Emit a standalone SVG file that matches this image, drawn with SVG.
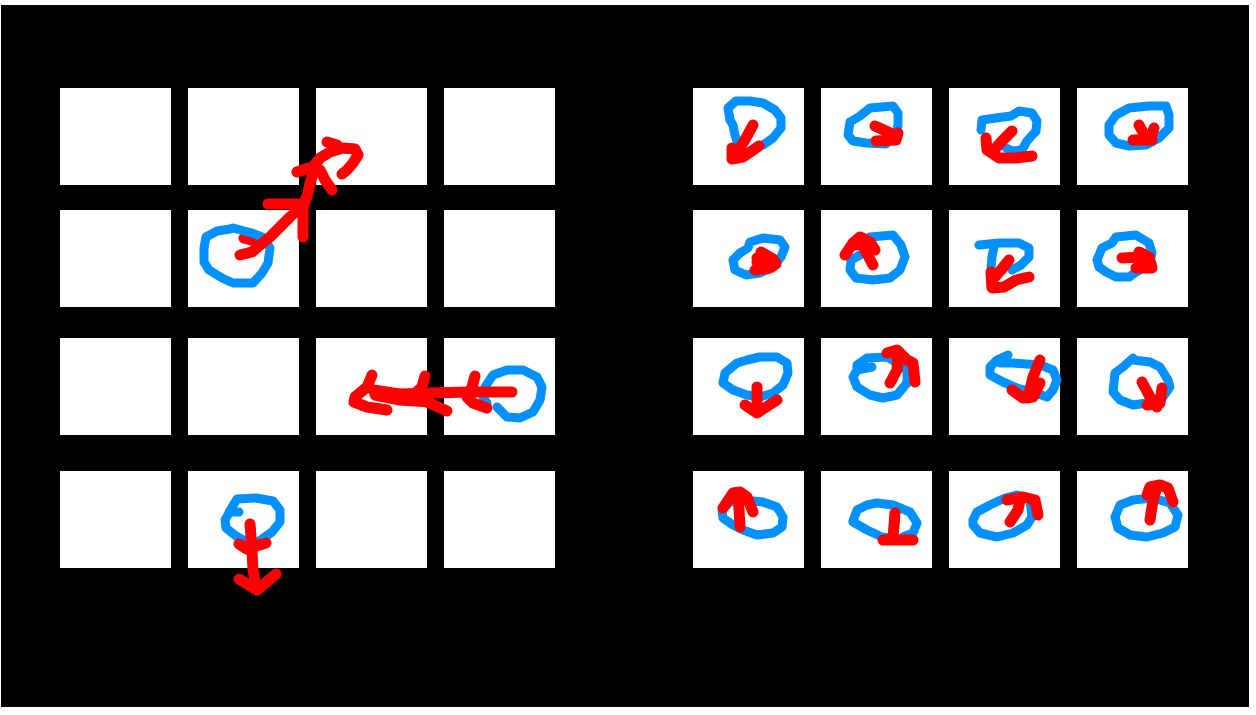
<svg xmlns="http://www.w3.org/2000/svg" width="1256" height="715" viewBox="0 0 1256 715">
<style>
.cell{fill:#ffffff}
.b{fill:none;stroke:#0091ff;stroke-width:9;stroke-linecap:round;stroke-linejoin:round}
.r{fill:none;stroke:#ff0000;stroke-width:11;stroke-linecap:round;stroke-linejoin:round}
</style>
<rect x="0" y="0" width="1256" height="715" fill="#ffffff"/>
<rect x="1" y="5" width="1248" height="702" fill="#000000"/>
<g id="left-grid">
<rect class="cell" x="60" y="88" width="111" height="97"/>
<rect class="cell" x="188" y="88" width="111" height="97"/>
<rect class="cell" x="316" y="88" width="111" height="97"/>
<rect class="cell" x="444" y="88" width="111" height="97"/>
<rect class="cell" x="60" y="210" width="111" height="97"/>
<rect class="cell" x="188" y="210" width="111" height="97"/>
<rect class="cell" x="316" y="210" width="111" height="97"/>
<rect class="cell" x="444" y="210" width="111" height="97"/>
<rect class="cell" x="60" y="338" width="111" height="97"/>
<rect class="cell" x="188" y="338" width="111" height="97"/>
<rect class="cell" x="316" y="338" width="111" height="97"/>
<rect class="cell" x="444" y="338" width="111" height="97"/>
<rect class="cell" x="60" y="471" width="111" height="97"/>
<rect class="cell" x="188" y="471" width="111" height="97"/>
<rect class="cell" x="316" y="471" width="111" height="97"/>
<rect class="cell" x="444" y="471" width="111" height="97"/>
</g>
<g id="right-grid">
<rect class="cell" x="693" y="88" width="111" height="97"/>
<rect class="cell" x="821" y="88" width="111" height="97"/>
<rect class="cell" x="949" y="88" width="111" height="97"/>
<rect class="cell" x="1077" y="88" width="111" height="97"/>
<rect class="cell" x="693" y="210" width="111" height="97"/>
<rect class="cell" x="821" y="210" width="111" height="97"/>
<rect class="cell" x="949" y="210" width="111" height="97"/>
<rect class="cell" x="1077" y="210" width="111" height="97"/>
<rect class="cell" x="693" y="338" width="111" height="97"/>
<rect class="cell" x="821" y="338" width="111" height="97"/>
<rect class="cell" x="949" y="338" width="111" height="97"/>
<rect class="cell" x="1077" y="338" width="111" height="97"/>
<rect class="cell" x="693" y="471" width="111" height="97"/>
<rect class="cell" x="821" y="471" width="111" height="97"/>
<rect class="cell" x="949" y="471" width="111" height="97"/>
<rect class="cell" x="1077" y="471" width="111" height="97"/>
</g>
<g id="left-strokes">
<g id="stroke-L1">
<polyline class="r" points="244,238 262,243"/>
<polyline class="b" points="230,229 217,231 206,237 204,248 204,262 209,270 222,278 233,283 253,283 262,273 268,263 270,248 262,237 252,233 233,228 230,229"/>
<polyline class="r" points="240,255 252,252 260,245 270,237 280,227 290,217 300,208 305,202 308,193 310,183 312,177 313,167 320,158 330,152 343,148 355,149 358,155 353,163 347,170 342,174"/>
<polyline class="r" points="268,204 300,204"/>
<polyline class="r" points="303,207 303,237"/>
<polyline class="r" points="297,172 308,168"/>
<polyline class="r" points="320,170 325,180 332,190"/>
<polyline class="r" points="327,142 337,145"/>
</g>
<g id="stroke-L2">
<polyline class="b" points="487,403 483,397 485,387 493,375 507,370 523,370 537,377 542,387 540,400 533,412 520,418 507,417 497,407"/>
<polyline class="r" points="512,392 470,392 430,393 400,394 373,390"/>
<polyline class="r" points="372,375 367,387 355,397 354,402 367,407 387,410"/>
<polyline class="r" points="425,376 422,387 413,395 427,402 447,411"/>
<polyline class="r" points="475,376 472,387 467,397 473,403 487,408"/>
<polyline class="r" points="375,395 400,400 430,402"/>
</g>
<g id="stroke-L3">
<polyline class="b" points="239,512 229,512 237,499 256,498 273,501 280,510 280,522 272,532 258,542 245,541 236,536 226,528 225,520 229,513"/>
<polyline class="r" points="250,524 252,550 253,570 257,590"/>
<polyline class="r" points="239,544 247,549 266,543"/>
<polyline class="r" points="239,579 257,590 276,574"/>
</g>
</g>
<g id="right-strokes">
<g id="cell-1-1">
<polyline class="b" points="730,120 728,108 736,101 750,101 763,103 775,110 781,118 781,128 773,138 763,145"/>
<polyline class="b" points="730,120 733,125 735,135 738,145"/>
<polyline class="r" points="753,125 746,138 740,148 735,158"/>
<polyline class="r" points="732,148 732,159 743,157 759,146"/>
</g>
<g id="cell-1-2">
<polyline class="b" points="850,122 860,116 870,108 893,106 898,113 898,125 896,135 886,144 866,143 853,141 848,135 850,122"/>
<polyline class="r" points="875,126 886,131 896,136"/>
<polyline class="r" points="876,141 896,140 898,133"/>
</g>
<g id="cell-1-3">
<polyline class="b" points="981,130 982,120 996,118 1011,116 1019,111 1032,113 1037,121 1036,131 1027,141 1022,150 1012,151 1006,148"/>
<polyline class="r" points="1012,131 1002,141 994,150"/>
<polyline class="r" points="986,138 987,150 999,158 1016,158 1032,156"/>
</g>
<g id="cell-1-4">
<polyline class="b" points="1109,125 1116,115 1129,108 1149,106 1166,106 1169,115 1169,128 1159,138 1146,145 1129,146 1116,143 1109,135 1109,125"/>
<polyline class="r" points="1139,125 1146,138"/>
<polyline class="r" points="1154,128 1151,138"/>
<polyline class="r" points="1133,140 1152,140"/>
</g>
<g id="cell-2-1">
<polyline class="b" points="733,260 740,253 748,248 750,242 763,238 780,240 785,247 781,257 773,267 760,273 746,275 735,270 733,260"/>
<polyline class="r" points="757,258 775,263"/>
<polyline class="r" points="761,252 773,259 776,264 770,268 755,270"/>
<polyline class="r" points="757,262 768,264"/>
</g>
<g id="cell-2-2">
<polyline class="b" points="870,237 893,235 901,245 905,257 900,270 890,278 873,280 856,278 850,270 851,260 860,255"/>
<polyline class="r" points="873,265 865,250 860,240"/>
<polyline class="r" points="845,255 853,243 860,237 870,242 875,250"/>
<polyline class="r" points="855,245 866,244"/>
</g>
<g id="cell-2-3">
<polyline class="b" points="979,245 999,243 1019,243 1029,248 1029,257 1021,265 1012,270"/>
<polyline class="b" points="994,247 992,257 991,267"/>
<polyline class="r" points="1009,260 1001,270 992,280"/>
<polyline class="r" points="991,272 992,288 1004,287 1016,280 1029,277"/>
</g>
<g id="cell-2-4">
<polyline class="b" points="1099,267 1097,260 1102,248 1112,243 1116,237 1136,235 1149,243 1152,253 1149,265 1136,272 1129,277 1116,277 1106,272 1099,267"/>
<polyline class="r" points="1122,258 1142,257"/>
<polyline class="r" points="1139,252 1149,257 1152,268 1136,268"/>
<polyline class="r" points="1142,260 1146,264"/>
</g>
<g id="cell-3-1">
<polyline class="b" points="723,383 725,373 737,363 747,360 760,357 777,357 787,363 788,373 783,385 773,393 760,397 747,395 733,390 723,383"/>
<polyline class="r" points="757,387 757,412"/>
<polyline class="r" points="745,405 757,413 777,400"/>
</g>
<g id="cell-3-2">
<polyline class="b" points="872,367 857,370 857,365 867,358 887,357 897,363 907,370 907,383 897,395 883,398 870,395 857,387 853,377 857,370"/>
<polyline class="r" points="890,383 897,370 898,357 893,352"/>
<polyline class="r" points="887,353 897,350 907,360 913,363 915,382"/>
</g>
<g id="cell-3-3">
<polyline class="b" points="1008,355 997,360 990,367 990,375 1003,382 1017,388 1033,392 1047,397 1053,390 1057,380 1053,370 1040,365 1013,363 1000,363"/>
<polyline class="r" points="1040,360 1033,377 1028,398"/>
<polyline class="r" points="1012,390 1023,398 1033,397 1040,383"/>
</g>
<g id="cell-3-4">
<polyline class="b" points="1133,358 1123,367 1115,373 1113,392 1120,400 1133,405 1147,403 1163,397 1170,387 1168,380 1160,367 1150,362 1133,360"/>
<polyline class="r" points="1142,382 1150,397 1157,407"/>
<polyline class="r" points="1162,388 1160,403 1147,405"/>
</g>
<g id="cell-4-1">
<polyline class="b" points="722,510 730,502 743,500 763,502 777,507 783,517 782,527 773,533 757,535 743,530 733,525 723,518 722,510"/>
<polyline class="r" points="740,527 738,493"/>
<polyline class="r" points="723,508 733,493 740,492 747,497 753,512"/>
</g>
<g id="cell-4-2">
<polyline class="b" points="853,521 857,510 867,505 877,503 893,505 910,512 917,523 913,533 903,537"/>
<polyline class="b" points="853,522 867,530 882,537 890,538"/>
<polyline class="r" points="895,513 893,538"/>
<polyline class="r" points="883,540 913,540"/>
</g>
<g id="cell-4-3">
<polyline class="b" points="973,520 977,512 990,505 1005,498 1017,495 1030,500 1032,517 1027,525 1013,533 997,537 980,533 973,525 973,520"/>
<polyline class="r" points="1010,522 1018,510 1020,500"/>
<polyline class="r" points="1007,500 1023,497 1035,500 1038,515"/>
</g>
<g id="cell-4-4">
<polyline class="b" points="1115,517 1120,505 1133,500 1153,498 1170,503 1178,515 1175,527 1163,533 1147,537 1130,535 1118,528 1115,517"/>
<polyline class="r" points="1150,520 1153,500 1157,487"/>
<polyline class="r" points="1147,495 1150,487 1160,485 1168,488 1173,502"/>
</g>
</g>
</svg>
